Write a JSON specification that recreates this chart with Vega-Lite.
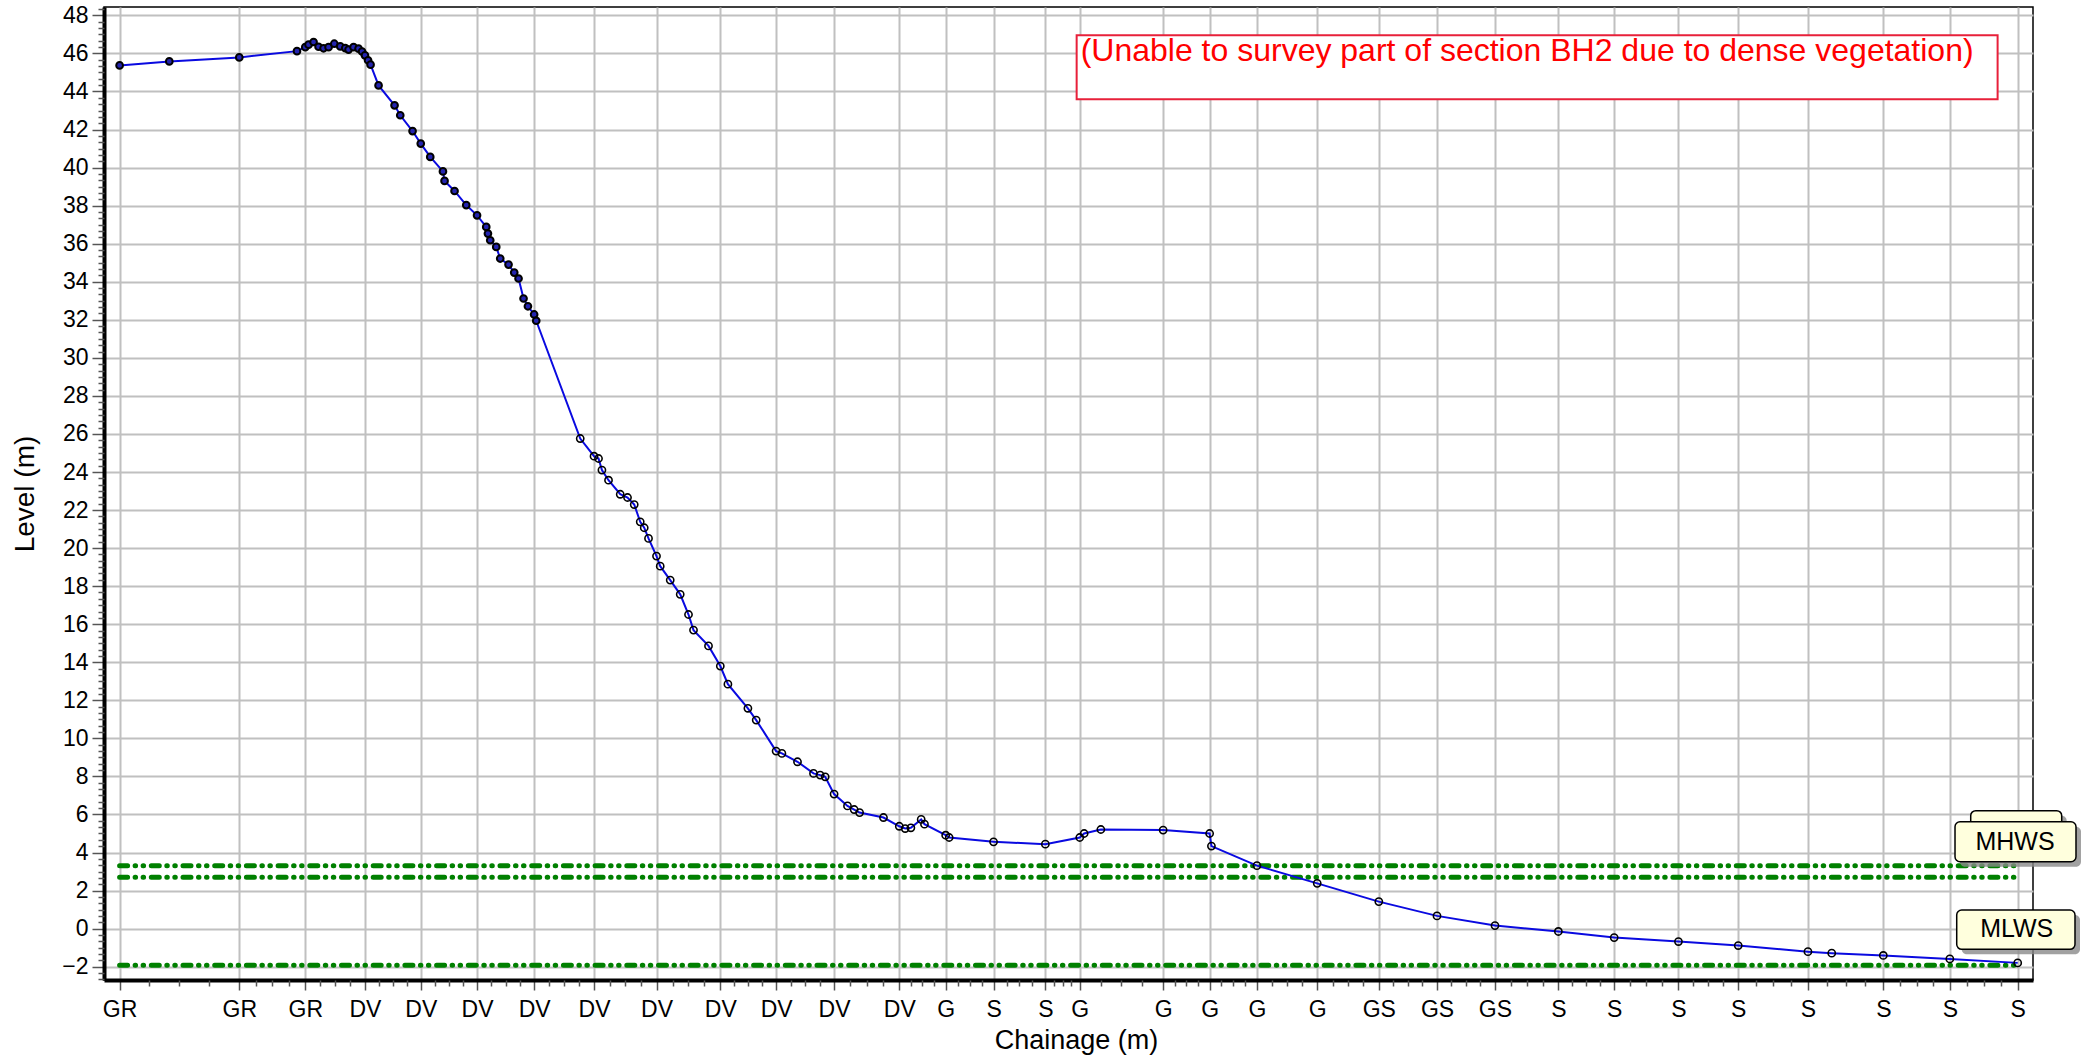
{
  "$schema": "https://vega.github.io/schema/vega-lite/v6.json",
  "width": 1929,
  "height": 973,
  "autosize": {"type": "none"},
  "padding": {"left": 104, "top": 7, "right": 56, "bottom": 76},
  "background": "white",
  "config": {
    "view": {"stroke": "black", "strokeWidth": 1.5},
    "font": "Liberation Sans"
  },
  "datasets": {
    "profile": [
      {"chainage": 0.00, "level": 45.37},
      {"chainage": 4.97, "level": 45.58},
      {"chainage": 11.97, "level": 45.79},
      {"chainage": 17.74, "level": 46.12},
      {"chainage": 18.57, "level": 46.33},
      {"chainage": 18.90, "level": 46.46},
      {"chainage": 19.40, "level": 46.60},
      {"chainage": 19.90, "level": 46.35},
      {"chainage": 20.40, "level": 46.27},
      {"chainage": 20.90, "level": 46.33},
      {"chainage": 21.47, "level": 46.51},
      {"chainage": 22.07, "level": 46.37},
      {"chainage": 22.57, "level": 46.28},
      {"chainage": 22.90, "level": 46.20},
      {"chainage": 23.40, "level": 46.33},
      {"chainage": 23.90, "level": 46.25},
      {"chainage": 24.25, "level": 46.10},
      {"chainage": 24.54, "level": 45.90},
      {"chainage": 24.85, "level": 45.64},
      {"chainage": 25.10, "level": 45.41},
      {"chainage": 25.90, "level": 44.32},
      {"chainage": 27.50, "level": 43.27},
      {"chainage": 28.07, "level": 42.75},
      {"chainage": 29.30, "level": 41.92},
      {"chainage": 30.12, "level": 41.26},
      {"chainage": 31.07, "level": 40.56},
      {"chainage": 32.34, "level": 39.80},
      {"chainage": 32.50, "level": 39.30},
      {"chainage": 33.50, "level": 38.77},
      {"chainage": 34.67, "level": 38.03},
      {"chainage": 35.75, "level": 37.49},
      {"chainage": 36.67, "level": 36.88},
      {"chainage": 36.84, "level": 36.53},
      {"chainage": 37.07, "level": 36.18},
      {"chainage": 37.67, "level": 35.83},
      {"chainage": 38.07, "level": 35.22},
      {"chainage": 38.90, "level": 34.90},
      {"chainage": 39.47, "level": 34.48},
      {"chainage": 39.90, "level": 34.17},
      {"chainage": 40.40, "level": 33.12},
      {"chainage": 40.84, "level": 32.71},
      {"chainage": 41.46, "level": 32.28},
      {"chainage": 41.67, "level": 31.95},
      {"chainage": 46.07, "level": 25.76},
      {"chainage": 47.45, "level": 24.83},
      {"chainage": 47.90, "level": 24.71},
      {"chainage": 48.24, "level": 24.10},
      {"chainage": 48.90, "level": 23.57},
      {"chainage": 50.07, "level": 22.83},
      {"chainage": 50.80, "level": 22.66},
      {"chainage": 51.47, "level": 22.29},
      {"chainage": 52.07, "level": 21.38},
      {"chainage": 52.47, "level": 21.07},
      {"chainage": 52.90, "level": 20.51},
      {"chainage": 53.70, "level": 19.58},
      {"chainage": 54.07, "level": 19.05},
      {"chainage": 55.07, "level": 18.32},
      {"chainage": 56.07, "level": 17.57},
      {"chainage": 56.90, "level": 16.51},
      {"chainage": 57.40, "level": 15.69},
      {"chainage": 58.90, "level": 14.86},
      {"chainage": 60.08, "level": 13.80},
      {"chainage": 60.84, "level": 12.85},
      {"chainage": 62.84, "level": 11.58},
      {"chainage": 63.67, "level": 10.96},
      {"chainage": 65.66, "level": 9.33},
      {"chainage": 66.24, "level": 9.21},
      {"chainage": 67.80, "level": 8.77},
      {"chainage": 69.40, "level": 8.16},
      {"chainage": 70.07, "level": 8.07},
      {"chainage": 70.57, "level": 7.98},
      {"chainage": 71.46, "level": 7.07},
      {"chainage": 72.80, "level": 6.45},
      {"chainage": 73.47, "level": 6.26},
      {"chainage": 74.01, "level": 6.10},
      {"chainage": 76.40, "level": 5.84},
      {"chainage": 77.98, "level": 5.38},
      {"chainage": 78.57, "level": 5.26},
      {"chainage": 79.14, "level": 5.30},
      {"chainage": 80.17, "level": 5.74},
      {"chainage": 80.50, "level": 5.49},
      {"chainage": 82.62, "level": 4.91},
      {"chainage": 82.97, "level": 4.79},
      {"chainage": 87.41, "level": 4.56},
      {"chainage": 92.59, "level": 4.44},
      {"chainage": 96.03, "level": 4.79},
      {"chainage": 96.47, "level": 5.00},
      {"chainage": 98.14, "level": 5.21},
      {"chainage": 104.37, "level": 5.18},
      {"chainage": 109.02, "level": 5.00},
      {"chainage": 109.20, "level": 4.34},
      {"chainage": 113.75, "level": 3.31},
      {"chainage": 119.78, "level": 2.38},
      {"chainage": 125.94, "level": 1.42},
      {"chainage": 131.76, "level": 0.67},
      {"chainage": 137.56, "level": 0.16},
      {"chainage": 143.90, "level": -0.15},
      {"chainage": 149.48, "level": -0.47},
      {"chainage": 155.91, "level": -0.68},
      {"chainage": 161.89, "level": -0.89},
      {"chainage": 168.86, "level": -1.21},
      {"chainage": 171.24, "level": -1.29},
      {"chainage": 176.40, "level": -1.41},
      {"chainage": 183.05, "level": -1.59},
      {"chainage": 189.84, "level": -1.80}
    ],
    "tides": [
      {"name": "MHWS", "level": 3.31, "from": 0, "to": 189.84},
      {"name": "MHW", "level": 2.70, "from": 0, "to": 189.84},
      {"name": "MLWS", "level": -1.93, "from": 0, "to": 189.84}
    ],
    "tags": [
      {"label": "", "x1": 185.14, "x2": 194.24, "top": 6.20, "bottom": 5.0},
      {"label": "MHWS", "x1": 183.57, "x2": 195.67, "top": 5.62, "bottom": 3.52},
      {"label": "MLWS", "x1": 183.74, "x2": 195.57, "top": 0.98, "bottom": -1.09}
    ],
    "note": [
      {"text": "(Unable to survey part of section BH2 due to dense vegetation)", "x1": 95.72, "x2": 187.83, "top": 46.95, "bottom": 43.59}
    ]
  },
  "resolve": {"scale": {"x": "shared", "y": "shared"}, "axis": {"x": "independent", "y": "independent"}},
  "layer": [
    {
      "data": {"name": "tides"},
      "mark": {"type": "rule", "color": "#008000", "strokeWidth": 5, "strokeCap": "round", "strokeDash": [8, 7.5, 0.5, 7.5, 0.5, 7.7]},
      "encoding": {
        "x": {"field": "from", "type": "quantitative", "axis": null, "scale": {"domain": [-1.56, 191.37], "nice": false, "zero": false}},
        "x2": {"field": "to"},
        "y": {"field": "level", "type": "quantitative", "axis": null, "scale": {"domain": [-2.7, 48.44], "nice": false, "zero": false}}
      }
    },
    {
      "data": {"name": "profile"},
      "mark": {"type": "line", "color": "#0a0ae0", "strokeWidth": 2},
      "encoding": {
        "x": {
          "field": "chainage", "type": "quantitative",
          "scale": {"domain": [-1.56, 191.37], "nice": false, "zero": false},
          "axis": {
            "orient": "bottom",
            "values": [0, 11.97, 18.57, 24.54, 30.12, 35.75, 41.46, 47.45, 53.70, 60.08, 65.66, 71.46, 77.98, 82.62, 87.41, 92.59, 96.03, 104.37, 109.02, 113.75, 119.78, 125.94, 131.76, 137.56, 143.90, 149.48, 155.91, 161.89, 168.86, 176.40, 183.05, 189.84],
            "labelExpr": "datum.value < 20 ? 'GR' : datum.value < 80 ? 'DV' : datum.value < 85 ? 'G' : datum.value < 95 ? 'S' : datum.value < 122 ? 'G' : datum.value < 140 ? 'GS' : 'S'",
            "grid": true, "gridColor": "#c0c0c0", "gridWidth": 2,
            "domain": true, "domainColor": "black", "domainWidth": 4,
            "ticks": true, "tickColor": "#555555", "tickWidth": 1.5, "tickSize": 10,
            "labelFont": "Liberation Sans", "labelFontSize": 23, "labelColor": "black", "labelPadding": 8,
            "labelFlush": false, "labelOverlap": false,
            "title": "Chainage (m)", "titleFont": "Liberation Sans", "titleFontSize": 27, "titleFontWeight": "normal", "titleColor": "black", "titlePadding": 6, "titleX": 972
          }
        },
        "y": {
          "field": "level", "type": "quantitative",
          "scale": {"domain": [-2.7, 48.44], "nice": false, "zero": false},
          "axis": {
            "orient": "left",
            "values": [-2, 0, 2, 4, 6, 8, 10, 12, 14, 16, 18, 20, 22, 24, 26, 28, 30, 32, 34, 36, 38, 40, 42, 44, 46, 48],
            "grid": true, "gridColor": "#c0c0c0", "gridWidth": 2,
            "domain": true, "domainColor": "black", "domainWidth": 4,
            "ticks": true, "tickColor": "#555555", "tickWidth": 1.5, "tickSize": 12,
            "labelFont": "Liberation Sans", "labelFontSize": 23, "labelColor": "black", "labelPadding": 4,
            "labelOverlap": false, "labelFlush": false,
            "title": "Level (m)", "titleFont": "Liberation Sans", "titleFontSize": 28, "titleFontWeight": "normal", "titleColor": "black", "titlePadding": 22
          }
        }
      }
    },
    {
      "data": {"name": "profile"},
      "transform": [{"filter": "datum.chainage < 44"}],
      "mark": {"type": "point", "shape": "circle", "filled": true, "fill": "#2424b0", "stroke": "black", "strokeWidth": 2, "size": 45, "opacity": 1},
      "encoding": {
        "x": {"field": "chainage", "type": "quantitative", "axis": null},
        "y": {"field": "level", "type": "quantitative", "axis": null}
      }
    },
    {
      "data": {"name": "profile"},
      "transform": [{"filter": "datum.chainage >= 44"}],
      "mark": {"type": "point", "shape": "circle", "filled": false, "stroke": "black", "strokeWidth": 1.6, "size": 52, "opacity": 1},
      "encoding": {
        "x": {
          "field": "chainage", "type": "quantitative",
          "axis": {
            "orient": "bottom", "title": null, "grid": false, "domain": false, "labels": false,
            "ticks": true, "tickColor": "#555555", "tickWidth": 1.5, "tickSize": 6,
            "values": [2.99, 5.99, 8.98, 13.62, 15.27, 16.92, 20.06, 21.56, 23.05, 25.94, 27.33, 28.73, 31.53, 32.94, 34.34, 37.18, 38.61, 40.03, 42.96, 44.46, 45.95, 49.01, 50.58, 52.14, 55.30, 56.89, 58.49, 61.48, 62.87, 64.27, 67.11, 68.56, 70.01, 73.09, 74.72, 76.35, 79.14, 80.30, 81.46, 83.82, 85.02, 86.21, 88.71, 90.00, 91.30, 93.45, 94.31, 95.17, 98.12, 100.20, 102.29, 105.53, 106.70, 107.86, 110.20, 111.39, 112.57, 115.26, 116.77, 118.27, 121.32, 122.86, 124.40, 127.40, 128.85, 130.31, 133.21, 134.66, 136.11, 139.15, 140.73, 142.32, 145.30, 146.69, 148.09, 151.09, 152.70, 154.30, 157.41, 158.90, 160.40, 163.63, 165.38, 167.12, 170.75, 172.63, 174.52, 178.06, 179.73, 181.39, 184.75, 186.45, 188.14]
          }
        },
        "y": {
          "field": "level", "type": "quantitative",
          "axis": {
            "orient": "left", "title": null, "grid": false, "domain": false, "labels": false,
            "ticks": true, "tickColor": "#555555", "tickWidth": 1.5, "tickSize": 6,
            "values": [-2.6667, -2.3333, -1.6667, -1.3333, -1, -0.6667, -0.3333, 0.3333, 0.6667, 1, 1.3333, 1.6667, 2.3333, 2.6667, 3, 3.3333, 3.6667, 4.3333, 4.6667, 5, 5.3333, 5.6667, 6.3333, 6.6667, 7, 7.3333, 7.6667, 8.3333, 8.6667, 9, 9.3333, 9.6667, 10.3333, 10.6667, 11, 11.3333, 11.6667, 12.3333, 12.6667, 13, 13.3333, 13.6667, 14.3333, 14.6667, 15, 15.3333, 15.6667, 16.3333, 16.6667, 17, 17.3333, 17.6667, 18.3333, 18.6667, 19, 19.3333, 19.6667, 20.3333, 20.6667, 21, 21.3333, 21.6667, 22.3333, 22.6667, 23, 23.3333, 23.6667, 24.3333, 24.6667, 25, 25.3333, 25.6667, 26.3333, 26.6667, 27, 27.3333, 27.6667, 28.3333, 28.6667, 29, 29.3333, 29.6667, 30.3333, 30.6667, 31, 31.3333, 31.6667, 32.3333, 32.6667, 33, 33.3333, 33.6667, 34.3333, 34.6667, 35, 35.3333, 35.6667, 36.3333, 36.6667, 37, 37.3333, 37.6667, 38.3333, 38.6667, 39, 39.3333, 39.6667, 40.3333, 40.6667, 41, 41.3333, 41.6667, 42.3333, 42.6667, 43, 43.3333, 43.6667, 44.3333, 44.6667, 45, 45.3333, 45.6667, 46.3333, 46.6667, 47, 47.3333, 47.6667, 48.3333]
          }
        }
      }
    },
    {
      "data": {"name": "note"},
      "mark": {"type": "rect", "fill": "white", "stroke": "#e8203a", "strokeWidth": 2},
      "encoding": {
        "x": {"field": "x1", "type": "quantitative", "axis": null},
        "x2": {"field": "x2"},
        "y": {"field": "top", "type": "quantitative", "axis": null},
        "y2": {"field": "bottom"}
      }
    },
    {
      "data": {"name": "note"},
      "mark": {"type": "text", "align": "left", "baseline": "top", "xOffset": 4, "yOffset": 1, "fontSize": 32, "font": "Liberation Sans", "color": "#ff0000"},
      "encoding": {
        "x": {"field": "x1", "type": "quantitative", "axis": null},
        "y": {"field": "top", "type": "quantitative", "axis": null},
        "text": {"field": "text"}
      }
    },
    {
      "data": {"name": "tags"},
      "mark": {"type": "rect", "fill": "#8a8a8a", "opacity": 0.8, "cornerRadius": 5, "xOffset": 5, "x2Offset": 5, "yOffset": 5, "y2Offset": 5},
      "encoding": {
        "x": {"field": "x1", "type": "quantitative", "axis": null},
        "x2": {"field": "x2"},
        "y": {"field": "top", "type": "quantitative", "axis": null},
        "y2": {"field": "bottom"}
      }
    },
    {
      "data": {"name": "tags"},
      "mark": {"type": "rect", "fill": "#ffffdd", "stroke": "black", "strokeWidth": 1.5, "cornerRadius": 5},
      "encoding": {
        "x": {"field": "x1", "type": "quantitative", "axis": null},
        "x2": {"field": "x2"},
        "y": {"field": "top", "type": "quantitative", "axis": null},
        "y2": {"field": "bottom"}
      }
    },
    {
      "data": {"name": "tags"},
      "mark": {"type": "text", "align": "center", "baseline": "middle", "xOffset": 60, "yOffset": -20, "fontSize": 25, "font": "Liberation Sans", "color": "black"},
      "encoding": {
        "x": {"field": "x1", "type": "quantitative", "axis": null},
        "y": {"field": "bottom", "type": "quantitative", "axis": null},
        "text": {"field": "label"}
      }
    }
  ]
}
